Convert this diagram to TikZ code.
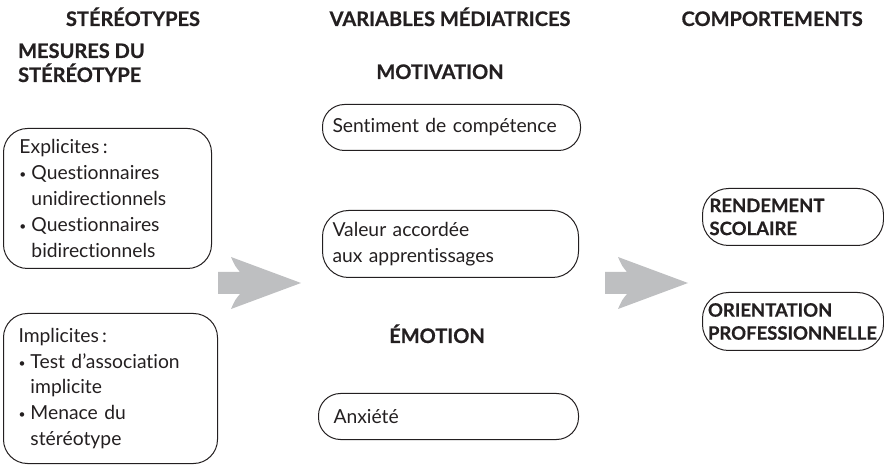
\documentclass[tikz,border=0pt]{standalone}
\usepackage{fontspec}
\setmainfont{Lato}[Ligatures={NoCommon}, BoldFeatures={FakeBold=0.6}]
\definecolor{arrowgray}{RGB}{190,191,193}
\definecolor{ink}{RGB}{35,31,32}
\newcommand{\bul}{\makebox[12pt][l]{\raisebox{1pt}{\fontsize{12}{12}\selectfont\textbullet}}}
\begin{document}
\begin{tikzpicture}[x=1pt,y=-1pt,
  box/.style={draw=ink, line width=1pt, rounded corners=#1, align=left, anchor=north west, inner ysep=0pt},
  box/.default=22pt,
  head/.style={font=\fontsize{20}{24}\selectfont\bfseries, text=ink, inner sep=0pt},
  body/.style={font=\fontsize{19.3}{25.8}\selectfont, text=ink},
  rhead/.style={font=\fontsize{18.5}{23}\selectfont\bfseries, text=ink},
  bigarrow/.style={fill=arrowgray, draw=none}
]
\useasboundingbox (0,0) rectangle (884,470);

% headings
\node[head, anchor=base] (h1) at (133,26) {STÉRÉOTYPES};
\node[head, anchor=base] (h2) at (450,26) {VARIABLES MÉDIATRICES};
\node[head, anchor=base east] (h3) at (863,26) {COMPORTEMENTS};
\node[head, anchor=base west, align=left] (h4) at (18,82) {MESURES DU\\STÉRÉOTYPE};
\node[head, anchor=base] (h5) at (440,79) {MOTIVATION};
\node[head, anchor=base] (h6) at (437,343) {ÉMOTION};

% left boxes
\node[box=24pt, body, minimum width=204pt, minimum height=140pt, text width=176pt, inner xsep=16pt] (b1) at (3,128)
  {Explicites\,:\\
   \bul Questionnaires\\
   \hspace*{12pt}unidirectionnels\\
   \bul Questionnaires\\
   \hspace*{12pt}bidirectionnels};
\node[box=24pt, body, minimum width=210pt, minimum height=150pt, text width=184pt, inner xsep=15pt] (b2) at (3,313)
  {Implicites\,:\\
   \bul Test d’association\\
   \hspace*{12pt}implicite\\
   \bul Menace du\\
   \hspace*{12pt}stéréotype};

% middle boxes
\node[box=22pt, body, minimum width=258pt, minimum height=46pt, text width=238pt, inner xsep=10pt] (m1) at (322,104)
  {Sentiment de compétence};
\node[box=26pt, body, minimum width=256pt, minimum height=67pt, text width=236pt, inner xsep=10pt] (m2) at (322,210)
  {Valeur accordée\\aux apprentissages};
\node[box=22pt, body, minimum width=260pt, minimum height=46pt, text width=230pt, inner xsep=15pt] (m3) at (318,393)
  {Anxiété};

% right boxes
\node[box=26pt, rhead, minimum width=181pt, minimum height=57pt, text width=167pt, inner xsep=7pt] (r1) at (702,188)
  {RENDEMENT\\SCOLAIRE};
\node[box=26pt, rhead, minimum width=181pt, minimum height=58pt, text width=170pt, inner xsep=5pt] (r2) at (702,292)
  {ORIENTATION\\PROFESSIONNELLE};

% big arrows
\fill[bigarrow] (218,272) -- (240,272) .. controls (235,266) .. (231,257) -- (301,283) -- (231,309) .. controls (235,300) .. (240,294) -- (218,294) -- cycle;
\fill[bigarrow] (605,272) -- (627,272) .. controls (622,266) .. (618,257) -- (688,283) -- (618,309) .. controls (622,300) .. (627,294) -- (605,294) -- cycle;
\end{tikzpicture}
\end{document}
